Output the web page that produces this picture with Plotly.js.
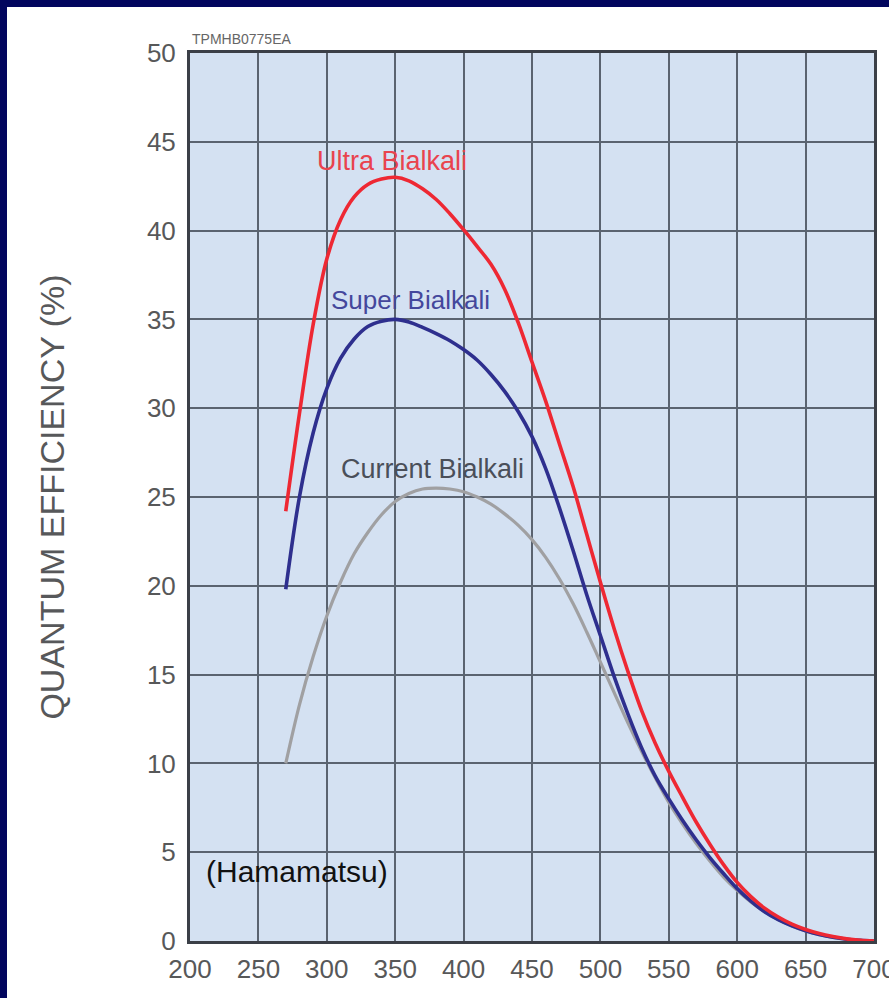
<!DOCTYPE html>
<html>
<head>
<meta charset="utf-8">
<script src="https://cdn.plot.ly/plotly-3.0.1.min.js"></script>
<style>
  html, body { margin: 0; padding: 0; background: #02065e; width: 889px; height: 998px; overflow: hidden; }
  #chart { position: absolute; left: 7px; top: 7px; width: 882px; height: 991px; background: #ffffff; }
</style>
</head>
<body>
<div id="chart"></div>
<script>
// Wavelength (nm)
const wavelength = [270, 280, 290, 300, 310, 320, 330, 340, 350, 360, 370, 380, 390, 400, 410, 420, 430, 440, 450, 460, 470, 480, 490, 500,
                    510, 520, 530, 540, 550, 560, 570, 580, 590, 600, 610, 620, 630, 640, 650, 660, 670, 680, 690, 700];
// Quantum efficiency (%)
const ultraBialkali   = [24.2, 29.7, 34.7, 38.4, 40.6, 41.9, 42.6, 42.9, 43.0, 42.8, 42.35, 41.75, 40.95, 40.05, 39.1, 38.1, 36.7, 34.8, 32.6, 30.4, 28.0, 25.6, 22.9, 20.2,
                         17.6, 15.2, 13.0, 11.15, 9.55, 8.1, 6.7, 5.45, 4.3, 3.3, 2.5, 1.85, 1.35, 0.95, 0.65, 0.42, 0.25, 0.12, 0.04, 0.0];
const superBialkali   = [19.8, 25.0, 28.6, 31.1, 32.8, 33.9, 34.6, 34.9, 35.0, 34.85, 34.55, 34.2, 33.8, 33.3, 32.7, 31.9, 30.95, 29.8, 28.4, 26.6, 24.4, 22.0, 19.5, 17.2,
                         14.9, 12.8, 10.9, 9.3, 8.0, 6.8, 5.7, 4.7, 3.8, 2.95, 2.25, 1.65, 1.2, 0.85, 0.58, 0.37, 0.21, 0.1, 0.04, 0.0];
const currentBialkali = [10.0, 13.3, 16.0, 18.3, 20.2, 21.8, 23.0, 24.0, 24.75, 25.2, 25.45, 25.5, 25.45, 25.3, 25.0, 24.6, 24.05, 23.4, 22.6, 21.6, 20.4, 19.0, 17.4, 15.7,
                         14.0, 12.3, 10.7, 9.2, 7.8, 6.6, 5.5, 4.5, 3.6, 2.85, 2.2, 1.65, 1.2, 0.85, 0.57, 0.36, 0.2, 0.1, 0.04, 0.0];

const seriesNames = ['Ultra Bialkali', 'Super Bialkali', 'Current Bialkali'];
const xTicks = [200, 250, 300, 350, 400, 450, 500, 550, 600, 650, 700];
const yTicks = [0, 5, 10, 15, 20, 25, 30, 35, 40, 45, 50];

const tickFont = { family: 'Liberation Sans, Arial, sans-serif', size: 26, color: '#575859' };

function trace(y, name, color, width) {
  return {
    x: wavelength, y: y, name: name, type: 'scatter', mode: 'lines',
    line: { color: color, width: width, shape: 'spline', smoothing: 1 },
    hoverinfo: 'x+y'
  };
}

const data = [
  trace(currentBialkali, seriesNames[2], '#a0a0a2', 3.2),
  trace(superBialkali, seriesNames[1], '#2e2f8e', 3.6),
  trace(ultraBialkali, seriesNames[0], '#ee2833', 3.6)
];

const layout = {
  width: 882, height: 991,
  margin: { l: 183, r: 15, t: 46, b: 57 },
  paper_bgcolor: '#ffffff',
  plot_bgcolor: '#d4e1f2',
  showlegend: false,
  xaxis: {
    range: [200, 700], tickvals: xTicks, ticktext: xTicks.map(String),
    showgrid: true, gridcolor: '#5a6370', gridwidth: 2,
    zeroline: false, showline: true, linecolor: '#3b3f47', linewidth: 3, mirror: true,
    ticks: '', ticklabelstandoff: 3, ticklabeloverflow: 'allow', tickfont: tickFont, fixedrange: true
  },
  yaxis: {
    range: [0, 50], tickvals: yTicks, ticktext: yTicks.map(String),
    showgrid: true, gridcolor: '#5a6370', gridwidth: 2,
    zeroline: false, showline: true, linecolor: '#3b3f47', linewidth: 3, mirror: true,
    ticks: '', ticklabelstandoff: 6, ticklabeloverflow: 'allow', tickfont: tickFont, fixedrange: true,
    title: { text: 'QUANTUM EFFICIENCY (%)', standoff: 72,
             font: { family: 'Liberation Sans, Arial, sans-serif', size: 34, color: '#57585a' } }
  },
  annotations: [
    { x: 347.7, y: 43.9, xref: 'x', yref: 'y', text: seriesNames[0], showarrow: false,
      font: { family: 'Liberation Sans, Arial, sans-serif', size: 27, color: '#e9434e' } },
    { x: 361.5, y: 36.1, xref: 'x', yref: 'y', text: seriesNames[1], showarrow: false,
      font: { family: 'Liberation Sans, Arial, sans-serif', size: 26, color: '#44479c' } },
    { x: 377, y: 26.6, xref: 'x', yref: 'y', text: seriesNames[2], showarrow: false,
      font: { family: 'Liberation Sans, Arial, sans-serif', size: 27, color: '#4a4f59' } },
    { x: 278, y: 3.9, xref: 'x', yref: 'y', text: '(Hamamatsu)', showarrow: false,
      font: { family: 'Liberation Sans, Arial, sans-serif', size: 30, color: '#111111' } },
    { x: 200, y: 50, xref: 'x', yref: 'y', xanchor: 'left', yanchor: 'bottom', yshift: 4,
      text: 'TPMHB0775EA', showarrow: false,
      font: { family: 'Liberation Sans Narrow, Liberation Sans, sans-serif', size: 14, color: '#666666' } }
  ]
};

Plotly.newPlot('chart', data, layout, { displayModeBar: false, staticPlot: true });
</script>
</body>
</html>
